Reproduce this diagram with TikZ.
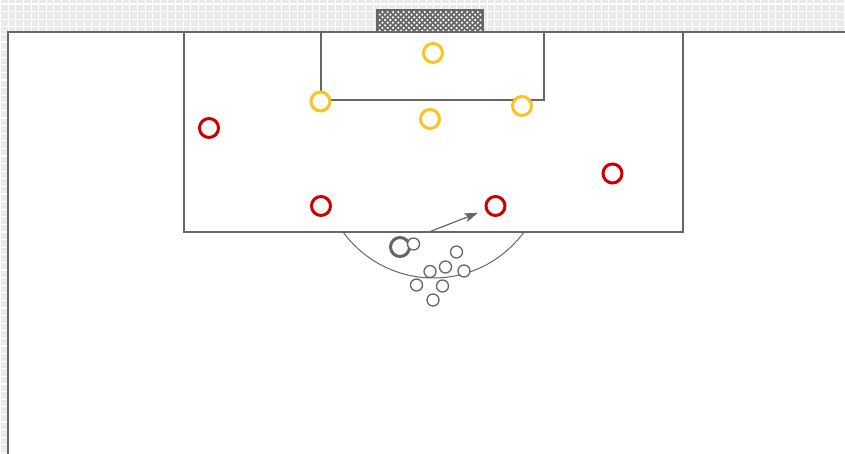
\documentclass[tikz,border=0pt]{standalone}
\usetikzlibrary{arrows.meta}
\begin{document}
\begin{tikzpicture}[x=1pt,y=-1pt,
  line/.style={draw=linegray,line width=1.3pt},
  attacker/.style={circle,draw=redp,line width=3pt,minimum size=19pt,inner sep=0pt,fill=white},
  defender/.style={circle,draw=yellowp,line width=3pt,minimum size=19pt,inner sep=0pt,fill=white},
  ballsm/.style={circle,draw=linegray,line width=1.3pt,minimum size=12pt,inner sep=0pt,fill=white},
  ballbig/.style={circle,draw=linegray,line width=3pt,minimum size=19pt,inner sep=0pt,fill=white},
  pass/.style={draw=linegray,line width=1.2pt,-{Stealth[length=13pt,width=9pt,inset=2.5pt]},shorten >=8pt},
  gridline/.style={white,line width=1.1pt}
]
\definecolor{linegray}{RGB}{102,102,102}
\definecolor{bggray}{RGB}{234,234,234}
\definecolor{redp}{RGB}{204,0,0}
\definecolor{yellowp}{RGB}{250,196,30}
\useasboundingbox (0,0) rectangle (845,454);
% background grid
\fill[bggray] (0,0) rectangle (845,454);
\foreach \k in {0,...,112} {
  \draw[gridline] (0.7+7.6*\k,0) -- (0.7+7.6*\k,454);
}
\foreach \k in {0,...,60} {
  \draw[gridline] (0,4+7.6*\k) -- (845,4+7.6*\k);
}
% pitch
\fill[white] (8,32) rectangle (850,460);
\draw[linegray,line width=2pt] (8,460) -- (8,32) -- (850,32);
% goal
\begin{scope}
  \clip (377,10) rectangle (483,32);
  \fill[white] (377,10) rectangle (483,32);
  \foreach \i in {-40,-34.7,...,150} {
    \draw[linegray,line width=1.7pt] (360+\i,0) -- (400+\i,40);
    \draw[linegray,line width=1.7pt] (400+\i,0) -- (360+\i,40);
  }
\end{scope}
\draw[linegray,line width=2pt] (377,32) -- (377,10) -- (483,10) -- (483,32);
% penalty box and goal area
\draw[line] (184,32) rectangle (683,232);
\draw[line] (321,32) rectangle (544,100);
% penalty arc
\begin{scope}
  \clip (330,232.6) rectangle (540,300);
  \draw[linegray,line width=1pt] (433.5,166) circle[radius=112pt];
\end{scope}
% players
\node[defender] (y1) at (433,53) {};
\node[defender] (y2) at (320.5,101.5) {};
\node[defender] (y3) at (430,119) {};
\node[defender] (y4) at (522,106) {};
\node[attacker] (r1) at (209,128) {};
\node[attacker] (r2) at (321,206) {};
\node[attacker] (r3) at (495.5,206) {};
\node[attacker] (r4) at (612.5,173.5) {};
% balls
\node[ballbig] (b0) at (400,247) {};
\node[ballsm] (b1) at (413.5,244) {};
\node[ballsm] (b2) at (456.5,252) {};
\node[ballsm] (b3) at (445.5,267) {};
\node[ballsm] (b4) at (430,271.5) {};
\node[ballsm] (b5) at (464,271) {};
\node[ballsm] (b6) at (416.5,285) {};
\node[ballsm] (b7) at (442.5,286) {};
\node[ballsm] (b8) at (433,300) {};
% pass arrow
\coordinate (ps) at (429,232);
\draw[pass] (ps) -- (r3);
\end{tikzpicture}
\end{document}
